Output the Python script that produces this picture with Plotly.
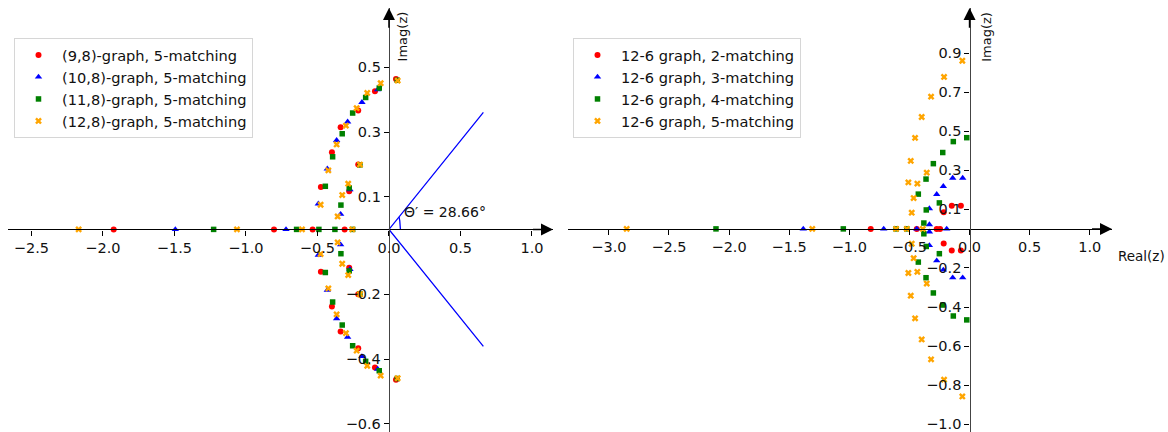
import numpy as np
import plotly.graph_objects as go

# ---------------- data ----------------
# Left panel: roots of 5-matching polynomials, (n,8)-graphs
g98_x = [-1.925, -0.804, -0.534, -0.31, 0.049, -0.098, -0.215, -0.338, -0.399, -0.476, -0.215, -0.278,
         0.049, -0.098, -0.215, -0.338, -0.399, -0.476, -0.215, -0.278]
g98_y = [0, 0, 0, 0, 0.464, 0.426, 0.367, 0.315, 0.238, 0.131, 0.2, 0.118,
         -0.464, -0.426, -0.367, -0.315, -0.238, -0.131, -0.2, -0.118]

g108_x = [-1.494, -0.72, -0.079, -0.189, -0.289, -0.366, -0.431, -0.494, -0.338, -0.273,
          -0.079, -0.189, -0.289, -0.366, -0.431, -0.494, -0.338, -0.273]
g108_y = [0, 0, 0.431, 0.392, 0.332, 0.275, 0.187, 0.079, 0.047, 0.123,
          -0.431, -0.392, -0.332, -0.275, -0.187, -0.079, -0.047, -0.123]

g118_x = [-1.226, -0.646, -0.49, -0.378, -0.254, 0.058, -0.068, -0.163, -0.254, -0.327, -0.394, -0.445, -0.278, -0.336, -0.203,
          0.058, -0.068, -0.163, -0.254, -0.327, -0.394, -0.445, -0.278, -0.336, -0.203]
g118_y = [0, 0, 0, 0, 0, 0.46, 0.436, 0.407, 0.359, 0.295, 0.224, 0.133, 0.128, 0.075, 0.199,
          -0.46, -0.436, -0.407, -0.359, -0.295, -0.224, -0.133, -0.128, -0.075, -0.199]

g128_x = [-2.17, -1.063, -0.608, -0.257, 0.061, -0.058, -0.152, -0.226, -0.301, -0.366, -0.424, -0.478, -0.285, -0.327, -0.359, -0.203,
          0.061, -0.058, -0.152, -0.226, -0.301, -0.366, -0.424, -0.478, -0.285, -0.327, -0.359, -0.203]
g128_y = [0, 0, 0, 0, 0.459, 0.451, 0.421, 0.374, 0.32, 0.262, 0.182, 0.076, 0.141, 0.106, 0.04, 0.2,
          -0.459, -0.451, -0.421, -0.374, -0.32, -0.262, -0.182, -0.076, -0.141, -0.106, -0.04, -0.2]

# Right panel: 12-6 graph, k-matching
m2_x = [-0.822, -0.439, -0.273, -0.245, -0.215, -0.148, -0.072, -0.215, -0.148, -0.072]
m2_y = [0, 0, 0, 0, 0.085, 0.118, 0.118, -0.075, -0.111, -0.111]

m3_x = [-1.383, -0.714, -0.439, -0.19, -0.334, -0.334, -0.273, -0.218, -0.14, -0.057,
        -0.334, -0.334, -0.273, -0.218, -0.14, -0.057]
m3_y = [0, 0, 0, 0, 0.022, 0.104, 0.177, 0.218, 0.26, 0.26,
        -0.015, -0.085, -0.163, -0.21, -0.25, -0.25]

m4_x = [-2.109, -1.05, -0.611, -0.522, -0.38, -0.36, -0.426, -0.362, -0.301, -0.223, -0.135, -0.023, -0.251,
        -0.38, -0.36, -0.426, -0.362, -0.301, -0.223, -0.135, -0.023, -0.251]
m4_y = [0, 0, 0, 0, 0.03, 0.097, 0.178, 0.255, 0.334, 0.391, 0.447, 0.467, 0.133,
        -0.025, -0.09, -0.17, -0.25, -0.328, -0.39, -0.446, -0.466, -0.127]

m5_x = [-2.852, -1.308, -0.611, -0.522, -0.389, -0.481, -0.465, -0.509, -0.434, -0.356, -0.489, -0.453, -0.398, -0.32, -0.212, -0.06,
        -0.481, -0.465, -0.509, -0.434, -0.356, -0.489, -0.453, -0.398, -0.32, -0.212, -0.06]
m5_y = [0, 0, 0, 0, 0, 0.083, 0.158, 0.238, 0.232, 0.288, 0.348, 0.466, 0.573, 0.677, 0.778, 0.861,
        -0.076, -0.15, -0.226, -0.22, -0.28, -0.342, -0.458, -0.566, -0.668, -0.772, -0.858]

left_names = ["(9,8)-graph, 5-matching", "(10,8)-graph, 5-matching",
              "(11,8)-graph, 5-matching", "(12,8)-graph, 5-matching"]
right_names = ["12-6 graph, 2-matching", "12-6 graph, 3-matching",
               "12-6 graph, 4-matching", "12-6 graph, 5-matching"]

left_xticks = [-2.5, -2.0, -1.5, -1.0, -0.5, 0.0, 0.5, 1.0]
left_yticks = [0.5, 0.3, 0.1, -0.2, -0.4, -0.6]
right_xticks = [-3.0, -2.5, -2.0, -1.5, -1.0, -0.5, 0.0, 0.5, 1.0]
right_yticks = [0.9, 0.7, 0.5, 0.3, 0.1, -0.2, -0.4, -0.6, -0.8, -1.0]

theta_deg = 28.66
ray_len_x = 0.66

# ---------------- layout geometry ----------------
W, H = 1168, 432
TOP = 8
L_RANGE_X = [-2.664, 1.147]
L_RANGE_Y = [-0.625, 0.683]
R_RANGE_X = [-3.34, 1.185]
R_RANGE_Y = [-1.04, 1.131]
L_DOM = [8 / W, 553 / W]
R_DOM = [568 / W, 1112 / W]

colors = ["red", "blue", "green", "orange"]
symbols = ["circle", "triangle-up", "square", "x"]
sizes = [6, 6.5, 5.5, 6]


def lab(v):
    s = f"{abs(v):.1f}"
    return ("\u2212" + s) if v < 0 else s


fig = go.Figure()

for (xs, ys), name, c, s, sz in zip([(g98_x, g98_y), (g108_x, g108_y), (g118_x, g118_y), (g128_x, g128_y)],
                                    left_names, colors, symbols, sizes):
    fig.add_trace(go.Scatter(x=xs, y=ys, mode="markers", name=name, xaxis="x", yaxis="y",
                             marker=dict(color=c, symbol=s, size=sz, line=dict(width=0)),
                             legend="legend"))

for (xs, ys), name, c, s, sz in zip([(m2_x, m2_y), (m3_x, m3_y), (m4_x, m4_y), (m5_x, m5_y)],
                                    right_names, colors, symbols, sizes):
    fig.add_trace(go.Scatter(x=xs, y=ys, mode="markers", name=name, xaxis="x2", yaxis="y2",
                             marker=dict(color=c, symbol=s, size=sz, line=dict(width=0)),
                             legend="legend2"))

# angle rays and arc
t = np.deg2rad(theta_deg)
ray_y = ray_len_x * np.tan(t)
fig.add_trace(go.Scatter(x=[ray_len_x, 0, ray_len_x], y=[ray_y, 0, -ray_y], mode="lines",
                         line=dict(color="blue", width=1.3), showlegend=False, hoverinfo="skip",
                         xaxis="x", yaxis="y"))
arc_t = np.linspace(0, t, 20)
fig.add_trace(go.Scatter(x=0.08 * np.cos(arc_t), y=0.08 * np.sin(arc_t), mode="lines",
                         line=dict(color="blue", width=1.3), showlegend=False, hoverinfo="skip",
                         xaxis="x", yaxis="y"))

plot_h = H - TOP


def xpos(rng):
    return (0 - rng[0]) / (rng[1] - rng[0])


def ypos(dom, rng):
    return dom[0] + (dom[1] - dom[0]) * (0 - rng[0]) / (rng[1] - rng[0])


tickfont = dict(family="DejaVu Sans", size=14.5, color="#111")
common_x = dict(showgrid=False, zeroline=False, showline=True, linecolor="black", linewidth=1.2,
                ticks="outside", ticklen=5, tickwidth=1, tickcolor="black", tickfont=tickfont,
                anchor="free", side="bottom", automargin=False, ticklabeloverflow="allow")
common_y = dict(showgrid=False, zeroline=False, showline=True, linecolor="#444", linewidth=1.4,
                ticks="outside", ticklen=5, tickwidth=1, tickcolor="black", tickfont=tickfont,
                anchor="free", side="left", automargin=False, ticklabeloverflow="allow")

legend_common = dict(font=dict(family="DejaVu Sans", size=14.6, color="#111"), bgcolor="white",
                     bordercolor="#d6d6d6", borderwidth=1, xanchor="left", yanchor="top",
                     itemsizing="trace", tracegroupgap=0, itemwidth=37)

fig.update_layout(
    width=W, height=H, margin=dict(l=0, r=0, t=TOP, b=0, autoexpand=False),
    plot_bgcolor="white", paper_bgcolor="white",
    xaxis=dict(domain=L_DOM, range=L_RANGE_X, tickvals=left_xticks, ticktext=[lab(v) for v in left_xticks],
               position=xpos(L_RANGE_Y), **common_x),
    yaxis=dict(domain=[0, 1], range=L_RANGE_Y, tickvals=left_yticks, ticktext=[lab(v) for v in left_yticks],
               position=ypos(L_DOM, L_RANGE_X), **common_y),
    xaxis2=dict(domain=R_DOM, range=R_RANGE_X, tickvals=right_xticks, ticktext=[lab(v) for v in right_xticks],
                position=xpos(R_RANGE_Y), **common_x),
    yaxis2=dict(domain=[0, 1], range=R_RANGE_Y, tickvals=right_yticks, ticktext=[lab(v) for v in right_yticks],
                position=ypos(R_DOM, R_RANGE_X), **common_y),
    legend=dict(x=14 / W, y=(H - 38) / plot_h, **legend_common),
    legend2=dict(x=573 / W, y=(H - 38) / plot_h, **legend_common),
)

annos = []
# arrows at end of axes
for xa, ya, xr, yr in [("x", "y", L_RANGE_X, L_RANGE_Y), ("x2", "y2", R_RANGE_X, R_RANGE_Y)]:
    annos.append(dict(x=xr[1], y=0, ax=xr[1] - 0.15 * (xr[1] - xr[0]) / 3.8, ay=0, xref=xa, yref=ya,
                      axref=xa, ayref=ya, showarrow=True, arrowhead=2, arrowsize=1.6, arrowwidth=1.5,
                      arrowcolor="black", text=""))
    annos.append(dict(x=0, y=yr[1], ax=0, ay=yr[1] - 0.05 * (yr[1] - yr[0]), xref=xa, yref=ya,
                      axref=xa, ayref=ya, showarrow=True, arrowhead=2, arrowsize=1.6, arrowwidth=1.5,
                      arrowcolor="black", text=""))
# axis titles
annos.append(dict(text="Imag(z)", textangle=-90, x=0.03, y=L_RANGE_Y[1] - 0.005, xref="x", yref="y",
                  xanchor="left", yanchor="top", showarrow=False,
                  font=dict(family="DejaVu Sans", size=13, color="#111")))
annos.append(dict(text="Imag(z)", textangle=-90, x=0.06, y=R_RANGE_Y[1] - 0.008, xref="x2", yref="y2",
                  xanchor="left", yanchor="top", showarrow=False,
                  font=dict(family="DejaVu Sans", size=13, color="#111")))
annos.append(dict(text="Real(z)", x=1141 / W, y=(H - 256) / plot_h, xref="paper", yref="paper",
                  xanchor="center", yanchor="middle", showarrow=False,
                  font=dict(family="DejaVu Sans", size=13.5, color="#111")))
# angle text
annos.append(dict(text="\u0398\u2032 = 28.66\u00b0", x=0.09, y=0.055, xref="x", yref="y",
                  xanchor="left", yanchor="middle", showarrow=False,
                  font=dict(family="DejaVu Sans", size=14, color="#111")))
fig.update_layout(annotations=annos)

fig.write_html("out.html", config={"displayModeBar": False},
               post_script="document.body.style.margin='0px';document.body.style.padding='0px';")
